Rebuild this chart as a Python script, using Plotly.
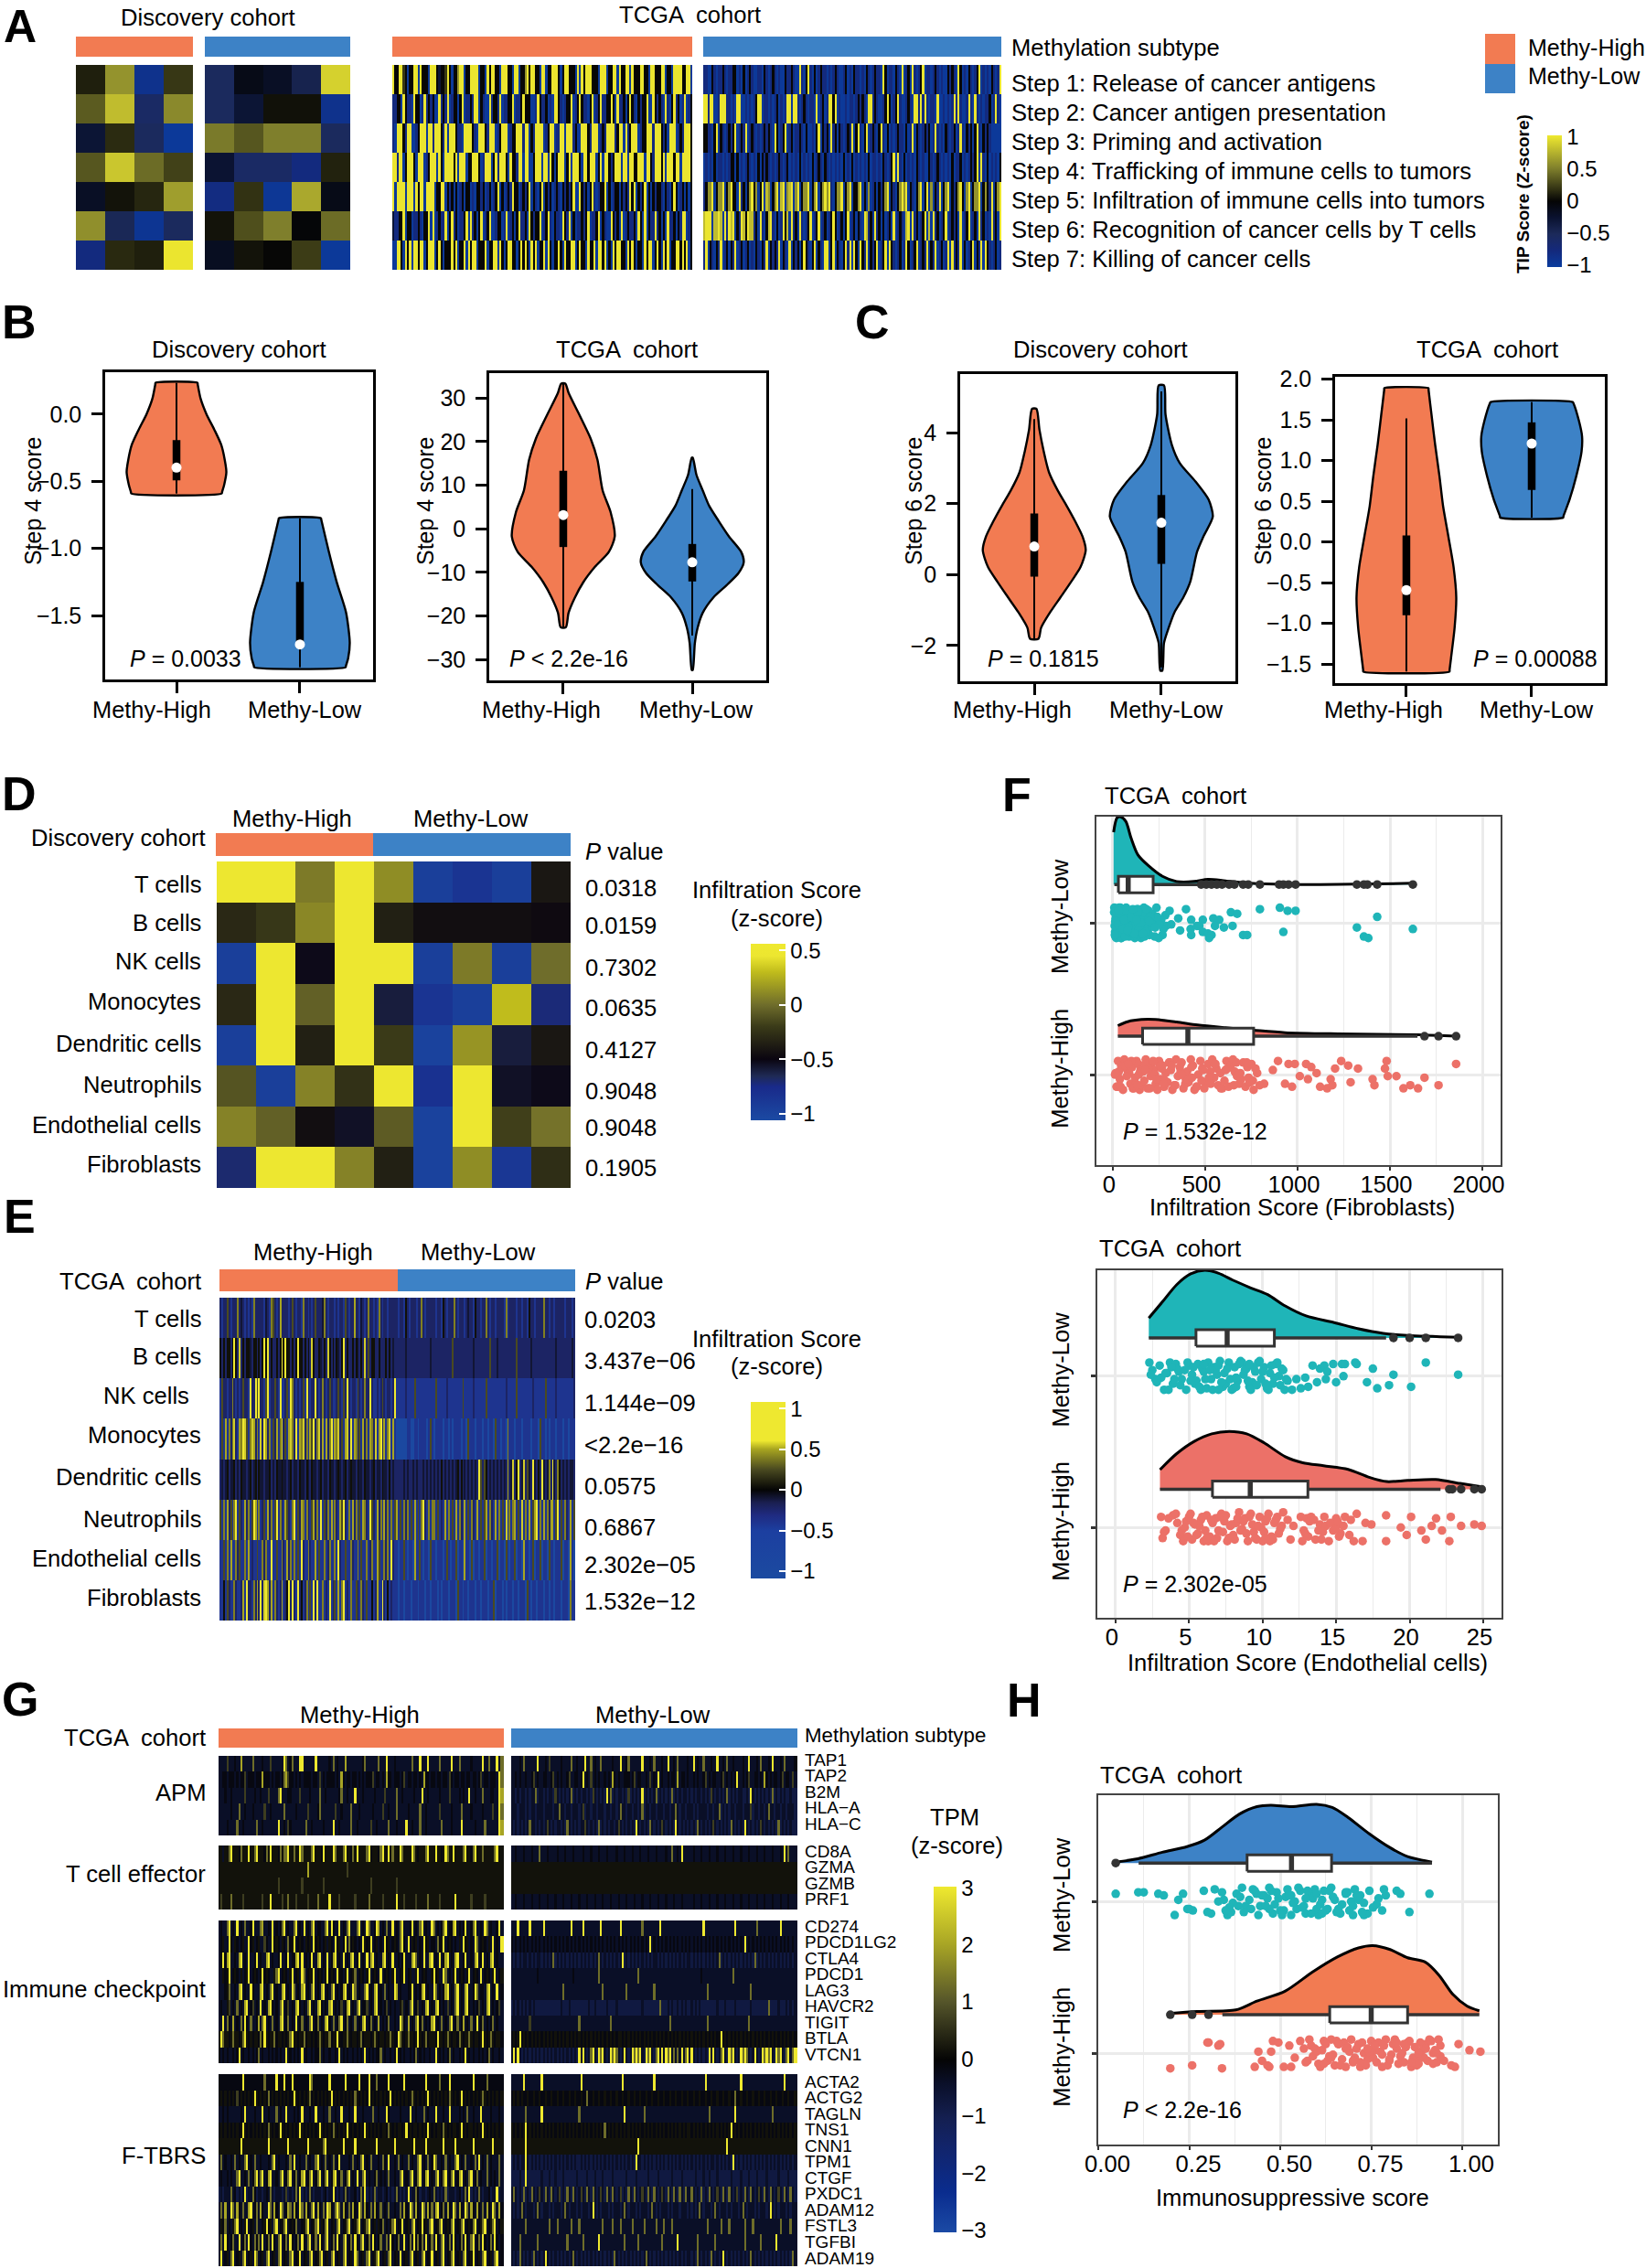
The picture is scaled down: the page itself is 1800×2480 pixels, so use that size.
import plotly.graph_objects as go
import numpy as np

W, H = 1800, 2480
FONT = "Liberation Sans"
ORANGE, BLUE, TEAL, SALMON = "#f27b52", "#3d82c6", "#1fb5b8", "#ec7168"
COHORT_D, COHORT_T = "Discovery cohort", "TCGA  cohort"
GROUPS = ["Methy-High", "Methy-Low"]

# ---------- Panel A ----------
STEPS = ["Step 1: Release of cancer antigens", "Step 2: Cancer antigen presentation", "Step 3: Priming and activation",
         "Step 4: Trafficking of immune cells to tumors", "Step 5: Infiltration of immune cells into tumors",
         "Step 6: Recognition of cancer cells by T cells", "Step 7: Killing of cancer cells"]
A_disc_high = [[.1, .6, -.9, .2], [.35, .8, -.6, .55], [-.3, .15, -.55, -1], [.33, .85, .42, .24],
               [-.2, .05, .13, .65], [.58, -.5, -.95, -.55], [-.8, .14, .1, 1]]
A_disc_low = [[-.55, -.12, -.2, -.45, .9], [-.55, -.3, .04, .04, -.9], [.48, .33, .5, .5, -.55],
              [-.28, -.6, -.6, -.8, .11], [-.82, .18, -.97, .7, -.12], [.05, .3, .5, -.03, .42], [-.18, .05, 0, .22, -1]]
A_LEVELS = [-1, -.8, -.55, -.3, 0, .2, .4, .6, .8, 1]
A_tcga_high = [
 "9449 9540 4499 0944 4099 9434 4594 0447 9904 4999 9044 0949 9440 9994 4099 0447 9499 4409 9044 9994 0499 4440 9094 9994 4409 9904 4990 9449 9094 4499 4409 9444 9904 4099 9944 990",
 "1144 0941 1094 4019 1414 0091 4190 1440 4901 1419 9041 0091 4419 0114 4901 1494 4400 1941 1401 0994 1014 4901 4941 1049 0149 1144 9409 1140 4941 0414 4900 9414 1091 0491 4019 014",
 "1099 9419 9001 4999 0991 9994 1909 9941 1099 9941 0999 4199 9014 9990 1449 9919 9041 9999 0149 9011 9909 9914 0099 9419 9901 4199 9914 9909 1499 9014 4999 1999 4140 9990 1419 994",
 "9919 9049 9940 9990 1499 9094 0999 9490 9990 4499 9401 9990 4919 9940 9441 9909 9004 9990 9909 4049 9904 9099 9409 9499 9049 0994 1499 9099 0994 4999 0994 1999 4909 9949 9099 994",
 "9099 9909 9909 4990 9999 0449 9041 4040 1404 4010 4414 0140 1490 4014 1944 0141 4904 1049 0414 0141 0414 1490 0941 4049 1014 4904 0144 0414 1949 0414 9040 4144 1041 0494 0140 404",
 "3114 4904 4011 4104 4909 0141 1904 9140 1149 0914 0490 1490 0144 0190 1404 9114 0941 4490 1491 0411 0941 9040 1141 4901 1490 4100 9414 0901 4114 0940 9041 1914 0409 1140 4199 014",
 "0099 4094 9099 4990 4999 0494 0444 9490 4490 9499 0444 9044 9909 4049 9440 4949 4094 9044 9094 0449 4094 4990 4944 0944 9099 4904 0949 9440 9494 0440 9499 0494 0949 0449 9494 904"]
A_tcga_low = [
 "1100 4101 1410 1144 0104 0141 0011 0410 1410 1004 1141 0091 0491 0401 4110 1014 1001 4010 4110 1041 0141 1094 0110 4109 0140 9101 4901 1014 1010 0414 1094 0104 1014 9010 1041 0190",
 "9919 9001 9991 1010 9900 1010 1499 0110 1014 0101 9909 9101 4101 1090 1401 9949 0100 1011 0141 4109 9141 0014 9401 4910 0141 0991 9191 0110 9001 0101 9191 0019 1091 0101 1401 9101",
 "4411 0490 4101 4149 0141 9014 1010 1414 1094 0149 0140 1141 0400 1049 0414 0914 0410 1419 0491 0490 1410 4910 4010 1411 0401 9041 0141 4019 1010 4101 4019 1041 4049 1041 4100 0000",
 "0101 0401 1010 1440 4010 1410 1040 4141 0101 4101 4010 1040 1010 4014 1041 0101 0104 0104 0101 0104 0110 1041 0149 0910 4010 1041 0100 4101 4101 0104 0114 0101 4149 0910 4010 1040",
 "1477 9047 7904 7944 0914 0479 4704 9087 0479 0890 7890 7904 7790 4790 4797 9104 7790 4790 4479 0407 0140 4147 9041 0479 7904 1047 9049 0704 1904 7904 1479 4079 0477 9047 4190 4790",
 "8999 0889 8091 9890 4198 4988 1409 1048 9104 0194 8091 4091 0149 0149 0140 1494 0140 4901 4041 0981 4091 4040 1409 0141 0890 9140 1490 8091 4014 9014 1409 0149 0140 9140 1091 4090",
 "1904 1041 9014 0419 0140 1401 0410 4190 4141 9041 0904 1404 9410 4904 1099 0490 4104 9190 9409 4190 4149 0149 0941 0140 1940 1490 1419 0419 0140 1909 1419 0401 4904 1909 4101 4010"]

# ---------- Panels B, C (violins: score levels, half widths, box summaries) ----------
B1_high_y = [.234, .222, .114, 0, -.114, -.227, -.341, -.432, -.523, -.578, -.591]
B1_high_w = [.17, .172, .196, .243, .306, .362, .391, .404, .387, .37, .366]
B1_low_y = [-.775, -.79, -1.023, -1.25, -1.477, -1.705, -1.818, -1.875, -1.886]
B1_low_w = [.17, .174, .234, .298, .374, .404, .391, .373, .37]
B1_high_box = [.234, -.193, -.398, -.493, -.591]
B1_low_box = [-.775, -1.25, -1.716, -1.74, -1.886]
B2_high_y = [33.3, 31.2, 26.3, 20.7, 15.8, 8.8, 3.9, -1.8, -5.3, -8.8, -12.3, -15.8, -19.3, -22.6]
B2_high_w = [.016, .041, .122, .212, .265, .305, .366, .399, .354, .244, .155, .09, .041, .02]
B2_low_y = [16.3, 12.3, 8.8, 5.3, 1.8, -1.8, -5.3, -7.7, -10.2, -13, -15.8, -19.3, -22.8, -26.3, -32.4]
B2_low_w = [.004, .033, .081, .13, .204, .285, .379, .399, .358, .265, .163, .081, .041, .02, .004]
B2_high_box = [33.3, 13.3, 3.15, -4.2, -22.6]
B2_low_box = [9.1, -3.5, -7.7, -12.1, -24.5]
C1_high_y = [4.67, 4.08, 3.48, 2.88, 2.36, 1.93, 1.5, 1.07, .69, .21, -.21, -.64, -1.07, -1.5, -1.81]
C1_high_w = [.017, .041, .074, .116, .186, .256, .322, .38, .405, .364, .289, .207, .124, .054, .033]
C1_low_y = [5.33, 4.51, 3.65, 3.14, 2.62, 2.11, 1.63, 1.07, .64, -.21, -.64, -1.07, -1.5, -1.93, -2.71]
C1_low_w = [.021, .033, .083, .145, .269, .372, .405, .331, .281, .227, .174, .103, .058, .021, .008]
C1_high_box = [4.38, 1.72, .79, -.06, -1.8]
C1_low_box = [5.16, 2.24, 1.46, .30, -2.62]
C2_high_y = [1.89, 1.87, 1.56, 1.19, .81, .44, .07, -.31, -.68, -1.05, -1.43, -1.57, -1.59]
C2_high_w = [.176, .177, .201, .23, .264, .293, .335, .377, .398, .385, .356, .345, .344]
C2_low_y = [1.72, 1.70, 1.49, 1.3, 1.11, .81, .52, .32, .30]
C2_low_w = [.327, .335, .377, .402, .398, .356, .302, .254, .251]
C2_high_box = [1.52, .08, -.59, -.9, -1.59]
C2_low_box = [1.72, 1.47, 1.21, .64, .30]

# ---------- Panels D, E ----------
CELLS = ["T cells", "B cells", "NK cells", "Monocytes", "Dendritic cells", "Neutrophils", "Endothelial cells", "Fibroblasts"]
D_P = ["0.0318", "0.0159", "0.7302", "0.0635", "0.4127", "0.9048", "0.9048", "0.1905"]
E_P = ["0.0203", "3.437e−06", "1.144e−09", "<2.2e−16", "0.0575", "0.6867", "2.302e−05", "1.532e−12"]
D_matrix = [[.5, .5, .05, .5, .12, -.95, -.85, -.95, -.4],
            [-.3, -.22, .1, .5, -.35, -.45, -.45, -.45, -.47],
            [-.95, .5, -.52, .5, .5, -.95, .05, -.95, 0],
            [-.3, .5, -.05, .5, -.6, -.85, -.95, .3, -.72],
            [-.95, .5, -.35, .5, -.2, -.98, .15, -.6, -.4],
            [-.1, -.95, .08, -.25, .5, -.82, .5, -.55, -.52],
            [.08, -.05, -.45, -.55, -.07, -.98, .5, -.18, .02],
            [-.7, .5, .5, .08, -.35, -.98, .12, -.88, -.27]]
D_groups = [0, 0, 0, 0, 1, 1, 1, 1, 1]
E_LEVELS = [-1, -.4, -.22, -.1, .04, .25, .4, .5, .56, 1]
E_high = [
 "2122521222623212121622222132165212722221252122162212125222362122212122152122722132126221216212212222",
 "4242442494282424432442424949242242494944242494424242842243242842424324924224243242825244224222424232",
 "1522122621212522192295922159122521911251962121251921229212621252112521529212215212622921121252122129",
 "1517162682176985168726182972615271682517862917682617592682717269176825178291762517261762817927168171",
 "2323423342324332342342433233423243343323423324332432433234233243323432342343324332433234233243324232",
 "5161725169152172615971612517261591621752169152761621572619152617162175921617261517621952172617261615",
 "1151617116251161712115116261191151162172616151921162117151161261161921151162116151161261175116261921",
 "1141521162112719221627292897271621271249292192412615192911612191251716912161152162151141271192141211"]
E_low = [
 "2122142122212262122222122142122262122212322142212262122122221612222122122142212222622122122222122212",
 "2222232222222222222322222222222522222222222322222222522232222222222522222223222222222222232222222232",
 "1111121111511111111111511111211111111511111211111151111111111211111511111111211111151111121111111112",
 "0000001100110111101510111101101011110110511101110110110511011061110111011110111051101011101110110111",
 "2222323223232223232323232423232323424232323232952542323232323272382492382532932429323629326423232332",
 "7151626151715169216166151217161517162171516217151571621716151816167151816171579161716277159151621715",
 "1011510110711510110511011101510115011071105011011501101150110510115011071101501150110511011150110710",
 "1011011101110111011011101011101110511011011101101110115011101011101101110510110111011011011101110611"]
E_groups = [60, 60]

# ---------- Panels F, H (rain clouds) ----------
F1_low_dx = [4, 23, 42, 70, 99, 136, 193, 269, 345, 440, 515, 610, 743, 932, 1122, 1311, 1624]
F1_low_dh = [.345, .44, .446, .416, .305, .195, .124, .054, .02, .02, .034, .024, .008, 0, 0, .002, .008]
F1_high_dx = [27, 80, 155, 231, 345, 459, 610, 762, 932, 1217, 1652, 1861]
F1_high_dh = [.07, .096, .11, .11, .094, .074, .056, .04, .024, .016, .01, 0]
F1_low_box = [8, 30, 83, 218, 459]
F1_high_box = [27, 161, 406, 762, 1649]
F1_low_out = [478, 506, 534, 563, 591, 629, 658, 705, 733, 796, 900, 923, 951, 989, 1321, 1359, 1378, 1431, 1624]
F1_high_out = [1687, 1763, 1858]
F1_low_x = [396, 307, 284, 354, 424, 487, 544, 576, 553, 468, 316, 288, 364, 421, 455, 601, 648, 424, 487, 515, 534, 521, 705, 727, 639, 673, 269, 796, 904, 946, 989, 923, 1321, 1431, 1359, 1383, 1624,
            8, 12, 15, 19, 7, 23, 27, 14, 31, 36, 21, 41, 18, 46, 52, 29, 57, 38, 63, 69, 44, 74, 81, 33, 88, 96, 58, 104, 112, 72, 119, 127, 91, 136, 143, 106, 152, 161, 124, 168, 176, 139, 185, 193, 155, 201, 212, 171, 224, 236, 189, 248, 262, 207, 274, 231, 216, 62, 84, 48, 25, 132, 150,
            10, 17, 24, 34, 43, 50, 59, 66, 77, 86, 93, 101, 109, 117, 122, 130, 141, 147, 158, 166, 173, 181, 190, 198, 209, 218, 227, 240, 252, 13, 28, 39, 55, 71, 83, 98, 115, 134, 154, 178, 203, 11, 32, 61, 79, 108, 128, 163, 196, 229]
F1_low_j = [9, 8, 5, 3, 2, 2, 3, 2, -2, -2, -1, -2, -5, -4, -2, -3, -2, -8, -6, -7, -8, -10, -8, -8, 7, 6, -8, 9, 10, 8, 8, -6, -3, 4, -9, -10, -4,
            10, -6, 3, -10, 7, 9, -3, -9, 5, -7, 1, 10, -4, -10, 4, 8, -8, 2, 9, -5, -10, 6, -2, 10, -9, 3, 8, -6, 0, 10, -10, 5, -3, 9, -7, 2, -10, 7, -4, 10, 1, -8, 4, 8, -6, -1, 6, -9, 3, 10, -5, -10, 2, 6, -4, 1, -2, -8, 7, -1, -7, 4, -5,
            -2, 6, -7, 2, -5, 7, 0, -9, 3, -6, 8, -2, 5, -8, 1, 9, -4, 3, -7, 7, -1, 9, -3, -8, 0, 5, -9, 4, -1, 1, -1, 6, -4, 8, -3, 4, -7, 7, 0, -6, 4, -8, 8, 2, -5, 9, 2, -7, 1, -3]
F1_high_x = [1858, 1763, 1687, 1652, 1610, 1573, 1535, 1488, 1473, 1482, 1416, 1406, 1327, 1287, 1274, 1236, 1203, 1179, 1160, 1122, 1188, 1103, 1074, 1046, 1056, 1012, 970, 932, 985, 951, 894, 866, 819, 781,
             12, 28, 20, 45, 38, 62, 55, 78, 70, 95, 88, 112, 104, 128, 120, 145, 137, 162, 154, 178, 170, 196, 188, 214, 205, 232, 224, 250, 241, 268, 259, 286, 278, 304, 296, 322, 314, 342, 333, 362, 352, 382, 372, 402, 392, 422, 412, 442, 433, 462, 452, 484, 474, 505, 495, 527, 516, 548, 538, 570, 560, 592, 582, 615, 604, 638, 626, 660, 650, 684, 672, 706, 695, 728, 718, 750, 740, 772, 762, 795, 32, 140, 265, 410, 555, 735,
             25, 50, 75, 100, 125, 150, 175, 200, 228, 255, 283, 310, 338, 367, 395, 425, 455, 488, 520, 552, 585, 620, 655, 690, 725, 758, 66, 108, 148, 192, 236, 275, 318, 372, 428, 480, 530, 610, 668, 742, 15, 42, 84, 132, 176, 218, 300, 350, 446, 500]
F1_high_j = [7, -7, -2, -9, -7, -9, -1, -1, 4, 9, -7, -3, 4, -5, 6, 9, 4, -3, -9, -8, -7, 1, 5, 7, -3, -1, -8, -6, 7, 7, 9, 3, -6, 1,
             0, 9, -8, 6, -3, 10, -10, 3, 8, -6, 1, -9, 5, 9, -2, -10, 7, 2, -7, 10, -4, 4, -9, 8, -1, -6, 3, 9, -10, 6, -3, 1, -8, 8, -5, -10, 3, 10, -7, 5, -1, -9, 8, 2, -6, 10, -3, -10, 6, 0, -8, 4, 9, -5, -9, 2, 7, -2, 10, -7, 4, -9, 1, 9, -4, 6, -8, 2, 10, -6, -1, 8, -3, 5, -8, 7, -5, 4, -10, -7, 2, 0,
             4, -5, 7, -2, -8, 5, -1, 9, -6, 3, 7, -9, 0, 6, -4, 8, -7, 2, -3, 5, -8, 3, -2, 7, -9, 4, -7, 1, 8, -4, 6, -9, 2, 4, -3, -6, 6, 0, -2, -4, -6, 3, 8, -5, 1, -8, 7, -7, 3, 9]
F2_low_dx = [2.26, 3.21, 4.16, 5.11, 6.07, 7.02, 7.97, 9.16, 10.35, 11.54, 12.96, 14.87, 16.53, 18.2, 19.86, 23.31]
F2_low_dh = [.131, .241, .352, .423, .447, .427, .382, .332, .286, .211, .145, .101, .06, .03, .016, .004]
F2_high_dx = [3.02, 4.16, 5.35, 6.54, 7.73, 8.92, 10.11, 11.54, 12.73, 14.15, 15.82, 17.25, 18.44, 19.86, 21.77, 23.43, 24.98]
F2_high_dh = [.129, .235, .316, .366, .382, .366, .306, .215, .175, .155, .131, .079, .05, .058, .064, .038, .014]
F2_low_box = [2.26, 5.47, 7.59, 10.8, 18.4]
F2_high_box = [3.02, 6.59, 9.16, 13.08, 22.1]
F2_low_out = [18.9, 20.0, 21.1, 23.3]
F2_high_out = [22.7, 22.9, 23.5, 24.4, 24.9]
F2_low_x = [2.3, 2.5, 2.7, 2.4, 2.8, 3.0, 3.3, 3.5, 3.7, 3.9, 3.6, 4.1, 4.3, 4.5, 4.2, 4.8, 5.0, 5.2, 5.4, 4.9, 5.6, 5.8, 6.0, 5.5, 6.3, 6.5, 6.7, 6.2, 6.9, 7.1, 7.3, 6.8, 7.5, 7.7, 7.9, 7.4, 8.1, 8.3, 8.5, 8.0, 8.7, 8.9, 9.1, 8.6, 9.3, 9.5, 9.7, 9.2, 9.9, 10.1, 10.3, 9.8, 10.5, 10.7, 10.9, 10.4, 11.1, 11.3, 11.5, 11.0, 11.7, 12.0, 12.3, 12.6, 12.9, 13.1, 13.4, 13.7, 13.9, 14.2, 14.4, 14.3, 14.8, 15.0, 15.4, 15.5, 15.6, 16.3, 16.4, 17.1, 17.5, 17.8, 18.6, 18.9, 20.1, 21.1, 23.3,
            3.1, 3.8, 4.4, 4.7, 5.1, 5.3, 5.7, 5.9, 6.1, 6.4, 6.6, 7.0, 7.2, 7.6, 7.8, 8.2, 8.4, 8.8, 9.0, 9.4, 9.6, 10.0, 10.2, 10.6, 10.8, 11.2, 11.4, 3.4, 4.0, 6.0, 7.0, 8.2, 9.1, 10.3, 11.6]
F2_low_j = [9, 4, -2, 1, -4, 7, -9, 2, 9, -5, -9, 8, 3, -2, 5, -9, 7, 1, -5, 9, 8, -9, 3, -3, 9, -2, 6, -8, 1, 10, -7, 4, -5, 9, -9, 2, 6, -3, 10, -8, 1, 5, -7, 9, -4, 3, 9, -9, -2, 6, -8, 10, 2, -5, 8, -9, 0, 5, -9, 9, -3, -9, -2, -8, -1, -7, 7, -4, 5, 7, 3, -2, 8, -4, 8, 0, 8, 9, 8, -4, 5, -8, -6, 1, -7, 9, 1,
            -1, 6, -6, 4, -3, 6, -7, 5, -2, 4, -9, 7, -4, 5, -2, -7, 8, 4, -3, 6, -6, 3, -5, 7, -1, -6, 4, 2, -2, 8, -9, -1, 8, -6, -2]
F2_high_x = [3.1, 3.4, 3.2, 3.6, 3.3, 3.9, 4.2, 4.4, 4.1, 4.6, 4.8, 4.5, 5.0, 5.2, 5.4, 5.1, 5.6, 5.8, 6.0, 5.7, 6.2, 6.4, 6.6, 6.3, 6.8, 7.0, 7.2, 6.9, 7.4, 7.6, 7.8, 7.5, 8.0, 8.2, 8.4, 8.1, 8.6, 8.8, 9.0, 8.7, 9.2, 9.4, 9.6, 9.3, 9.8, 10.0, 10.2, 9.9, 10.4, 10.6, 10.8, 10.5, 11.0, 11.2, 11.4, 11.1, 11.7, 11.9, 12.1, 12.6, 12.8, 13.0, 12.7, 13.3, 13.6, 13.9, 13.2, 14.2, 14.5, 14.8, 14.3, 15.0, 15.3, 15.6, 15.0, 16.0, 16.2, 16.4, 15.9, 16.8, 17.0, 17.4, 18.4, 18.4, 19.4, 19.8, 20.1, 20.8, 21.1, 21.5, 21.8, 22.2, 22.7, 22.8, 23.5, 24.4, 24.9, 12.9, 14.0, 10.9,
             4.9, 5.3, 5.5, 5.9, 6.1, 6.5, 6.7, 7.1, 7.3, 7.7, 7.9, 8.3, 8.5, 8.9, 9.1, 9.5, 9.7, 10.1, 10.3, 10.7, 11.3, 13.1, 13.5, 14.1, 14.6, 15.2, 15.5, 4.7, 6.2, 8.7, 10.2, 13.8, 15.1]
F2_high_j = [7, -2, -7, 6, -3, 8, 3, -5, 9, -9, 4, -2, 7, -8, 2, 9, -4, 5, -9, 1, 8, -6, 3, -9, 6, -2, 9, -7, 4, -9, 1, 8, -5, 3, 10, -8, -1, 6, -9, 4, 9, -3, -8, 2, 7, -9, 4, 0, 9, -6, 3, -9, 7, -1, 10, -4, 5, -8, 1, 7, -2, 6, -9, 7, -8, 2, 4, 7, -9, -2, 1, 6, -4, 7, 0, 5, -9, 9, -5, -9, 3, 2, -9, 8, 0, -5, 7, -2, -8, 1, 6, -2, -9, 7, 1, 2, 1, -4, -8, 5,
             -6, 3, -5, 7, -2, 5, -9, 7, -3, -7, 2, 6, -2, -4, 7, -7, 1, -3, 6, -8, 1, -6, 5, -3, 3, -6, 1, 0, -7, 5, -7, -2, 4]
H_low_dx = [.041, .109, .176, .244, .292, .34, .388, .436, .474, .532, .6, .643, .686, .744, .802, .85, .917]
H_low_dh = [.004, .028, .071, .108, .151, .237, .323, .372, .381, .372, .387, .366, .301, .194, .101, .043, .006]
H_high_dx = [.191, .272, .378, .436, .513, .59, .657, .715, .754, .802, .85, .898, .936, .975, 1.013, 1.047]
H_high_dh = [.009, .022, .032, .09, .155, .284, .381, .441, .456, .43, .376, .348, .262, .133, .058, .026]
H_low_box = [.111, .409, .531, .641, .917]
H_high_box = [.341, .636, .75, .85, 1.047]
H_low_out = [.048]
H_high_out = [.198, .258, .303]
H_low_x = [.048, .11, .125, .165, .18, .22, .233, .21, .245, .26, .29, .3, .32, .33, .31, .345, .355, .34, .37, .38, .365, .395, .405, .39, .42, .43, .415, .44, .455, .445, .47, .48, .465, .49, .5, .485, .52, .53, .515, .545, .555, .54, .57, .58, .565, .595, .605, .59, .62, .63, .615, .64, .655, .645, .67, .68, .665, .695, .705, .69, .72, .73, .715, .745, .755, .74, .77, .785, .765, .78, .79, .82, .83, .855, .91, .25, .47, .6, .53, .7,
           .36, .4, .435, .46, .475, .495, .51, .525, .535, .56, .575, .585, .6, .61, .625, .635, .65, .66, .685, .7, .71, .725, .35, .385, .425, .45, .505, .55, .57, .615, .68, .73]
H_low_j = [5, 6, 6, 5, 4, 1, 5, -9, -5, -6, 7, -7, 8, 0, -8, 1, -9, 6, -1, 5, -7, 9, -3, 3, -5, 7, 1, -9, 4, -3, 9, -8, 2, 6, -6, -2, 8, -9, 3, -5, 7, 0, -8, 5, -3, 8, -9, 2, 7, -5, 1, 9, -7, 3, -2, 6, -8, 0, 8, -6, 4, -9, 1, 7, -4, -8, 2, 8, -2, -6, 4, 7, 5, -7, 5, -5, -5, -5, 4, -9,
           -4, -7, 5, -3, 7, 2, -6, 4, -1, -4, 7, -8, 5, -2, -6, 7, 1, -5, 6, -3, 4, -7, -6, -3, 8, 4, -9, 9, 2, -8, 5, -1]
H_high_x = [.198, .258, .303, .34, .335, .44, .43, .45, .47, .48, .465, .475, .495, .51, .525, .53, .54, .555, .565, .57, .58, .59, .6, .61, .585, .62, .63, .615, .64, .65, .635, .66, .67, .655, .68, .69, .675, .7, .71, .695, .72, .73, .715, .74, .75, .735, .76, .77, .755, .78, .79, .775, .8, .81, .795, .82, .83, .815, .84, .85, .835, .86, .87, .855, .88, .89, .875, .9, .91, .895, .92, .93, .915, .94, .95, .935, .97, .98, .99, 1.02, 1.05, .3, .33, .88,
            .575, .595, .605, .625, .645, .665, .685, .705, .725, .745, .765, .785, .805, .825, .845, .865, .885, .905, .925, .94, .6, .64, .68, .72, .76, .8, .84, .88, .92, .66, .7, .74, .78, .82, .86, .9, .93, .62]
H_high_j = [-10, -8, 7, -10, 6, 1, -9, -5, -9, 8, -8, 1, 7, -9, 5, -9, -3, 8, 3, -6, 9, -2, 1, -9, 5, 8, -5, 2, 9, -8, -2, 6, -4, 8, -9, 1, 7, -6, 3, 9, -9, 0, 6, -4, 8, -8, 2, 7, -3, -9, 9, 1, -5, 6, -8, 3, -2, 9, -6, 7, 0, -9, 4, 8, -4, 2, -8, 6, 9, -3, 0, -6, 8, 5, -5, 9, -8, -9, 6, 2, 1, 7, 5, -7,
            -5, 3, -7, 6, -1, -8, 4, -3, 7, 1, -6, 5, -1, -7, 4, -3, 7, -5, 2, -2, 2, -3, 3, -6, 5, -4, 6, 0, -7, 6, -5, 3, -1, 7, -6, 3, 0, -7]

# ---------- Panel G ----------
G_LEVELS = [-3, -1.5, -.8, -.4, -.15, .15, .7, 1.3, 2, 3]
G_BLOCKS = ["APM", "T cell effector", "Immune checkpoint", "F-TBRS"]
G_GENES = [["TAP1", "TAP2", "B2M", "HLA−A", "HLA−C"], ["CD8A", "GZMA", "GZMB", "PRF1"],
           ["CD274", "PDCD1LG2", "CTLA4", "PDCD1", "LAG3", "HAVCR2", "TIGIT", "BTLA", "VTCN1"],
           ["ACTA2", "ACTG2", "TAGLN", "TNS1", "CNN1", "TPM1", "CTGF", "PXDC1", "ADAM12", "FSTL3", "TGFBI", "ADAM19"]]
G_high = [
 ["3333 6333 4338 3333 3733 3343 3363 3333 3973 4733 3993 3333 3933 3333 4373 4333 8333 3333 3473 3333 3733 3933 3433 3333 3373 3393 3393 3333 7333 3393 3373 3333 4333 3393 3733 3937",
  "3344 3444 3434 4634 4434 4484 4434 3443 4786 4434 3434 4443 4436 3434 4443 4384 3443 4434 3434 4463 4434 3844 3444 3463 4434 4343 8443 4434 4344 3643 4434 4344 3443 4634 4344 4397",
  "3334 3343 3333 3633 3343 3433 3633 3379 3334 4333 3633 3343 3337 3343 3333 3473 3433 3933 3433 3334 3333 6333 3373 3433 3334 3339 3343 3333 4333 3633 3343 4339 3343 3373 3344 3398",
  "3333 3343 3373 3433 3433 3336 3343 3333 3733 3334 3333 3633 3347 3333 3336 3343 3337 3334 3333 3343 3336 3343 3373 3333 4333 3373 3433 3333 6333 3343 3337 3333 4333 3343 3336 3397",
  "3333 4333 3733 4333 3337 3343 3333 3393 3436 4333 3333 7334 3333 3433 3393 3433 3337 3343 3333 3633 4333 3373 3343 3339 3343 3373 3433 3333 3733 3343 3339 3333 3343 3337 3333 3398"],
 ["5535 5795 5547 5559 5579 5554 7595 5547 5779 5575 5975 5557 9555 4955 5597 5557 9554 7595 5557 9455 5479 5595 7555 9755 5597 5455 5795 5595 5459 7559 5555 7955 4795 5575 5555 7955",
  "5555 5555 5555 5555 5555 5555 5555 5555 5555 5555 5555 5855 5555 5555 5555 5555 5655 5555 5555 5555 5555 5555 5555 5555 5555 5555 5555 5555 5555 5555 5555 5555 5555 5555 5555 5555",
  "5555 5555 5555 5555 5555 5555 5555 5565 5555 5555 5565 5555 5555 5655 5555 5555 5555 5555 5555 5655 5555 5555 5565 5555 5555 5555 5555 5555 5555 5555 5555 5555 5555 5555 5555 5555",
  "5655 5575 5555 6555 5555 5565 5595 5555 6557 5556 5555 5655 5575 5555 9555 5655 5555 5655 5555 7555 5556 5555 5595 5565 5555 6555 5575 5555 6555 5555 9555 5555 6555 5556 5555 5555"],
 ["3433 7934 3934 3733 4933 3783 3439 3434 7934 3379 3439 3437 9344 3379 3943 3934 3793 3379 3439 7334 9834 3733 9343 7933 3493 4379 3433 9734 3479 3448 9343 4933 4793 3439 7343 3493",
  "3453 3943 5434 5339 4534 5336 4339 4543 5437 4593 4543 5453 9454 3453 5439 4534 9374 5434 3954 5934 5343 9453 4543 7943 9354 5343 9453 4437 4593 4543 4353 9453 4397 3454 3539 3439",
  "3494 8933 4389 3439 3349 3433 8934 3349 3349 3448 9393 4349 3389 3439 3489 3439 3438 9349 3439 3893 4338 9343 9334 3493 3389 7343 9338 9343 9348 9343 8933 4933 4389 3493 4389 3433",
  "3354 5934 5435 3459 3454 3594 5433 5793 4543 5934 5397 3455 9345 4359 4543 9543 5934 5734 5435 9345 4393 4543 5933 4593 4533 5934 5433 5945 3397 3435 9345 4359 3454 3934 5435 9345",
  "3334 5733 4389 3433 9433 3893 4379 3433 8934 3973 4389 3437 9343 8934 3793 4348 9343 9734 3379 3438 9343 7343 3983 4333 4593 4348 9343 3973 4348 9343 7934 3893 3497 3443 8934 3934",
  "3433 5634 3734 3893 4634 3934 3894 3437 9346 3438 9434 3793 4389 4343 8934 3463 4893 4379 3446 3438 9343 4634 3433 5634 3793 4634 3893 4389 4343 6343 7934 3894 3434 6343 8934 3463",
  "3393 7438 3437 3943 7334 8379 3437 3438 9347 3439 3473 4379 3473 4389 4373 4793 4734 3734 3893 4734 3834 3473 3433 9743 8343 7947 3434 8934 3734 3793 4734 8343 7349 3473 4347 3433",
  "4975 5457 5545 7954 5455 4759 5455 7455 4545 7955 4557 4554 5457 5455 7455 9545 5754 5545 7455 5457 5455 4557 5449 7545 7554 5954 5745 5549 5545 7545 5475 4557 5455 4595 4575 4554",
  "4343 4334 3493 4334 3434 7343 3434 3434 3393 4343 4393 4334 3447 3433 4334 3934 3433 4343 4393 4343 4473 4334 3493 4343 3434 7343 4334 3393 4343 4734 3343 4934 3433 4343 4734 3343"],
 ["4444 4444 4444 9444 4444 4447 4444 4944 4944 4944 4444 4497 4444 4444 9444 4444 9444 4449 4444 9444 7444 4494 4444 4494 4444 4444 4944 4444 7444 4944 4444 4444 4944 4444 7444 4444",
  "4545 4545 4645 4545 4595 4545 4745 4545 4545 4595 4545 4574 5454 5454 5945 4545 4545 4754 5454 9454 5454 5459 4545 4545 4575 4545 4595 4545 4545 4754 5459 4545 4545 4575 4545 4545",
  "3343 4333 3334 3933 3343 3393 3433 3734 3393 3343 4393 3343 3933 3433 7334 3393 3343 3933 3433 3373 3433 3943 3333 4333 3933 4333 7343 3393 3343 3933 3343 4373 3433 3933 3343 3343",
  "4545 4545 4545 9545 4545 4545 4754 5459 5454 5454 5954 5454 5459 5454 5475 4545 4954 5454 5495 4545 4545 5475 4545 5459 4545 5454 5495 4545 5475 4545 5459 4545 5454 5495 4545 4545",
  "5555 5555 5559 5555 5555 5555 5955 5555 5559 5555 5555 5955 5555 5795 5555 5559 5555 5955 5555 5555 9555 5555 5955 5555 5559 5555 5955 5555 5595 5555 9555 5555 5955 5555 5559 5555",
  "3734 3343 7343 3793 4373 3433 3437 9343 3343 7393 3433 7343 3793 4373 4373 4933 3343 7343 7934 3733 3437 4393 3437 3433 7343 3793 4373 4973 3437 3433 7934 3733 4373 9343 7343 3373",
  "3433 4343 3793 3437 3479 3793 4893 3437 9347 9347 3489 3479 3479 3479 3489 3473 4793 4393 3793 4334 7343 4373 3433 7934 3793 4793 4893 4379 3479 3479 3489 3437 9347 3433 7343 4373",
  "2323 3373 4232 3923 3742 3323 4373 2333 2362 3237 3923 2373 2333 2342 3393 2323 7323 3423 7392 3237 2332 3423 2373 2323 9233 7423 3234 3732 3237 2333 2342 3739 2323 7323 3423 3923",
  "3738 3397 3843 7338 9347 3843 3973 8439 7348 7384 3973 8437 9384 3739 8437 9738 4373 8439 7384 3738 4373 4373 3433 7384 3973 8439 7384 7389 3473 8439 7384 3973 8438 4373 8439 7384",
  "3547 3435 7934 3593 4537 3345 9453 7934 5793 4547 3345 7934 5793 5479 3453 7934 5793 4579 3457 9345 3547 3435 7934 5934 5379 3459 4537 9345 7934 5479 3457 9345 4793 4579 3457 9345",
  "3739 4347 3393 4739 4374 7393 4739 4379 3473 9434 7394 3793 4739 4379 3473 9437 9347 3943 7934 7394 3473 3739 4347 3393 4739 4747 3934 7394 3793 4739 4347 3943 7934 7394 3473 9434",
  "3934 5379 3453 7934 5397 3453 7934 5379 3453 7934 5934 5379 3457 9345 3793 4537 9345 3973 4537 9345 7934 5379 3453 9345 3793 4537 9345 9345 3793 4579 3453 7934 5934 5379 3453 7934"]]
G_low = [
 ["333343733333393334363333343333733433393373433733333433393347333333933343733343393343733334339343373334339334373343333433933343733343933343733334",
  "334343343346343344334634343346334434934363434334343843433444346344334363439343343443834434334343346343443346343434933434633443438434344346344363",
  "332323323233723323233263232323723232332326323232937232332326232323923232372323232723232332323233232326323232372323233223293232323232723232322322",
  "333233323233233323333233733233233323623323323332332332373323323323723323323332332337323323332323333233233723232332333233362332332373323323323332",
  "323232323733232323632323323273232323363232327232323323632323232932323273232363232329323232323273232323632323232732323293232323632323232723232322"],
 ["334333433343337333433334333433343333433343334333433334333433343334333433343333433733439333334333433343334333433343334333433343334333433343937333",
  "555555555555555555555555555555555555555555555555555555555555555555555555555555555555555555555555555555555555555555555555555555555555555555555555",
  "555555555555555555555555555555555555555555555555555555555555555555555555555555555555555555555555555555555555555555555555555555555555555555555555",
  "334333433343334333433343334333433343334333433343334333433343334333433343334333433343334333334333433343334333433343334333433343334333433343334333"],
 ["333933333933333393333333333333933333933333333933333333393333333333733333333933333333333333333333393333333333333339333333333373333333333393333333",
  "434343434343434343434343434343434343434343434343434343434343434343434393434343434343434343434343434343434343434343434393434343434343434343434343",
  "323232332323233232323723232323232323232323237323232323239232323232323232332323232323232323323232323232323723232323232323232723232323232323232323",
  "333333333333343333333333333333343333333333337333333333333333333373333333333333333333333333333333433333333333333373333333333333333333333333333333",
  "333333333333333333333333337333333333333333333373333333333373333333333333733333333333333333333333333733333333333333333333373333333333333333333333",
  "232323232323222222222222232223222222222322322222322223222222222222322222222722232322323232232323222222223222322223222222232222222272222322232323",
  "333333333633333333333333333333333373333333333333337333333333333333333333333333337333333333333333333733333333333333333333733333333333333333333333",
  "454594545454545454545454545454545454545454545454545454554545454545454545454545454545454545454545454545454594545454545454545454545454545454545454",
  "393932323232323232323232323232323293932379329793239797323932397979329793279393979373739379393232323293932379329793239797323932397979329793279379"],
 ["333333933333333933333333333333333339333333333333333333339333333333333333933333333333333333333333339333333333333333339333333333333333333333933333",
  "454545445445445445445445445445445445447445445445445445445445445445445445445445445445445445445445445445445445445447445445445445445445445445445445",
  "333333373333333933333333333333333373333333333333333333333933333333373333333333333333333333333333333373333333333339333333333333333333733333333333",
  "545454594545454545454545454545454545454545454547454545454545454545454545454545454545454545545454545454545454545945454545454545454545454545454545",
  "555555595555555555555555555555555555555555555555555555555555555595555555555555555555555555555555555555555555595555555555555555555555555555555555",
  "232323393232323232323232323232323223232323232323232323232323232933232323232323232323232323232323232323323232323293232323232323232323232323232323",
  "222232292222222322232232223222222322223222322232222322222232222322222322223222222322223222222322232232223222222322223222322232222322222322223222",
  "373232723273236327327323623273273236327327323632732732362327327323632732732363273273273273373232723273236327327323623273273236327327323632732732",
  "323237323332373233323233323732333232333239323233323233323732333232333237323233323233323332323237323332373233323233323732333232333239323233323233",
  "333333373333333333373337333333733373333333333373333733373333373333373333373337333733333333333333333733333373337333333373337333333333333373333733",
  "333373333333373333333333333373333333733333339333333333333733333373333333333373333333933333333373333333373333333333333373333333733333339333333333",
  "323273232327323239323232323232373232323232323232323273232323232323237323232323232323232323323273232327323239323232323232373232323232323232323273"]]

# ---------- Colour ramps ----------
CS_A = [[0, "#0a3c9e"], [.125, "#14297c"], [.25, "#1c2a5a"], [.375, "#0a1230"], [.5, "#050505"], [.75, "#80802c"], [1, "#efe92f"]]
CS_D = [[0, "#1b4aa3"], [.19, "#192a8a"], [.25, "#1f2a55"], [.346, "#0a0510"], [.53, "#3a3a18"], [.654, "#6f6d2b"], [.84, "#c0bc1c"], [.93, "#ece630"], [1, "#efe92f"]]
CS_E = [[0, "#1b4aa0"], [.27, "#1c3fa0"], [.36, "#1f2a80"], [.43, "#1a1f50"], [.502, "#050505"], [.618, "#4a4a20"], [.733, "#a8a520"], [.78, "#eee830"], [1, "#eee830"]]
CS_G = [[0, "#1b4aa5"], [.117, "#0a2c8e"], [.25, "#12246a"], [.333, "#141f50"], [.433, "#0a0f28"], [.5, "#050505"], [.667, "#55552a"], [.833, "#a8a525"], [1, "#efe92f"]]

fig = go.Figure()
layout = {}
annots = []
axn = [0]


def new_axes(box, xcfg=None, ycfg=None):
    l, t, r, b = box
    axn[0] += 1
    n = axn[0]
    s = "" if n == 1 else str(n)
    x = dict(domain=[l / W, r / W], anchor="y" + s, automargin=False)
    y = dict(domain=[1 - b / H, 1 - t / H], anchor="x" + s, automargin=False)
    x.update(xcfg or dict(visible=False))
    y.update(ycfg or dict(visible=False))
    layout["xaxis" + s] = x
    layout["yaxis" + s] = y
    return "x" + s, "y" + s


def txt(x, y, s, size=25.6, anchor="left", angle=0, bold=False):
    annots.append(dict(xref="paper", yref="paper", x=x / W, y=1 - y / H, text=("<b>%s</b>" % s if bold else s), showarrow=False,
                       xanchor=anchor, yanchor="middle", textangle=angle, font=dict(family=FONT, size=size, color="#000"), align="center", borderpad=0))


def heat(box, z, caxis):
    xa, ya = new_axes(box, dict(visible=False), dict(visible=False, autorange="reversed"))
    fig.add_trace(go.Heatmap(z=z, coloraxis=caxis, xaxis=xa, yaxis=ya, hoverinfo="skip", xgap=0, ygap=0))


def bar_annot(box, values):
    xa, ya = new_axes(box, dict(visible=False), dict(visible=False, autorange="reversed"))
    fig.add_trace(go.Heatmap(z=values, colorscale=[[0, ORANGE], [1, BLUE]], zmin=0, zmax=1, showscale=False, xaxis=xa, yaxis=ya, hoverinfo="skip"))


def decode(rows, levels, n):
    cleaned = [r.replace(" ", "") for r in rows]
    return [[levels[int(c)] for c in r.ljust(n, r[-1])[:n]] for r in cleaned]


def cbar(l, t, r, b, vals, labels, ticks="", tickcolor="white", ticklen=0):
    return dict(x=l / W, xanchor="left", y=1 - t / H, yanchor="top", len=b - t, lenmode="pixels", thickness=r - l, thicknessmode="pixels",
                xpad=0, ypad=0, outlinewidth=0, tickvals=vals, ticktext=labels, ticks=ticks, tickcolor=tickcolor, ticklen=ticklen, tickwidth=2,
                tickfont=dict(family=FONT, size=24, color="#000"))


# ---- A ----
txt(22, 29, "A", 50, "center", bold=True)
txt(227, 19, COHORT_D, anchor="center")
txt(754, 16, COHORT_T, anchor="center")
for box, g in [((83, 40, 211, 62), 0), ((224, 40, 383, 62), 1), ((429, 40, 757, 62), 0), ((769, 40, 1095, 62), 1)]:
    bar_annot(box, [[g, g]])
heat((83, 71, 211, 295), A_disc_high, "coloraxis")
heat((224, 71, 383, 295), A_disc_low, "coloraxis")
heat((429, 71, 757, 295), decode(A_tcga_high, A_LEVELS, 143), "coloraxis")
heat((769, 71, 1095, 295), decode(A_tcga_low, A_LEVELS, 143), "coloraxis")
txt(1105, 52, "Methylation subtype")
for i, s in enumerate(STEPS):
    txt(1105, 91 + i * 32, s)
bar_annot((1624, 37, 1657, 102), [[0], [1]])
txt(1670, 52, GROUPS[0], 25)
txt(1670, 83, GROUPS[1], 25)
txt(1666, 212, "TIP Score (Z-score)", 19, "center", -90, True)
layout["coloraxis"] = dict(colorscale=CS_A, cmin=-1.04, cmax=1.02, colorbar=cbar(1692, 148, 1708, 292, [-1, -.5, 0, .5, 1], ["−1", "−0.5", "0", "0.5", "1"]))


# ---- B, C ----
def violin_panel(box, xr, yr, yticks, ylabels, ytitle, yt_x, title, tx, px_, ptext, lab_x, high, low, hbox, lbox):
    xcfg = dict(range=xr, tickvals=[0, 1], ticktext=["", ""], ticks="outside", ticklen=12, tickwidth=2.5, tickcolor="#000", showline=True, linecolor="#000",
                linewidth=2.5, mirror=True, showgrid=False, zeroline=False)
    ycfg = dict(range=yr, tickvals=yticks, ticktext=ylabels, ticks="outside", ticklen=12, tickwidth=2.5, tickcolor="#000", showline=True, linecolor="#000",
                linewidth=2.5, mirror=True, showgrid=False, zeroline=False, tickfont=dict(family=FONT, size=25, color="#000"), ticklabelstandoff=6)
    xa, ya = new_axes(box, xcfg, ycfg)
    for c, (ys, ws), col, bx in [(0, high, ORANGE, hbox), (1, low, BLUE, lbox)]:
        xs = [c - w for w in ws] + [c + w for w in reversed(ws)]
        yy = list(ys) + list(reversed(ys))
        fig.add_trace(go.Scatter(x=xs + xs[:1], y=yy + yy[:1], mode="lines", fill="toself", fillcolor=col, line=dict(color="#000", width=2.4, shape="spline", smoothing=.7),
                                 xaxis=xa, yaxis=ya, hoverinfo="skip", showlegend=False))
        fig.add_trace(go.Scatter(x=[c, c], y=[bx[0], bx[4]], mode="lines", line=dict(color="#000", width=2), xaxis=xa, yaxis=ya, hoverinfo="skip", showlegend=False))
        fig.add_trace(go.Scatter(x=[c, c], y=[bx[1], bx[3]], mode="lines", line=dict(color="#000", width=8.5), xaxis=xa, yaxis=ya, hoverinfo="skip", showlegend=False))
        fig.add_trace(go.Scatter(x=[c], y=[bx[2]], mode="markers", marker=dict(color="white", size=11), xaxis=xa, yaxis=ya, hoverinfo="skip", showlegend=False))
    txt(yt_x, 548, ytitle, 25, "center", -90)
    txt(tx, 382, title, anchor="center")
    txt(px_, 720, ptext, 25)
    txt(lab_x[0], 776, GROUPS[0], 25.4, "center")
    txt(lab_x[1], 776, GROUPS[1], 25.4, "center")


txt(21, 352, "B", 52, "center", bold=True)
txt(954, 352, "C", 52, "center", bold=True)
violin_panel((115, 407, 408, 743), [-.578, 1.593], [-1.977, .313], [0, -.5, -1, -1.5], ["0.0", "−0.5", "−1.0", "−1.5"], "Step 4 score", 36, COHORT_D, 261, 141,
             "<i>P</i> = 0.0033", (166, 333), (B1_high_y, B1_high_w), (B1_low_y, B1_low_w), B1_high_box, B1_low_box)
violin_panel((535, 408, 838, 744), [-.574, 1.574], [-34.8, 35.7], [30, 20, 10, 0, -10, -20, -30], ["30", "20", "10", "0", "−10", "−20", "−30"], "Step 4 score", 465, COHORT_T, 685, 556,
             "<i>P</i> < 2.2e-16", (592, 761), (B2_high_y, B2_high_w), (B2_low_y, B2_low_w), B2_high_box, B2_low_box)
violin_panel((1050, 409, 1351, 745), [-.583, 1.583], [-3.01, 5.65], [4, 2, 0, -2], ["4", "2", "0", "−2"], "Step 6 score", 999, COHORT_D, 1203, 1079,
             "<i>P</i> = 0.1815", (1107, 1275), (C1_high_y, C1_high_w), (C1_low_y, C1_low_w), C1_high_box, C1_low_box)
violin_panel((1460, 412, 1755, 747), [-.569, 1.584], [-1.733, 2.03], [2, 1.5, 1, .5, 0, -.5, -1, -1.5], ["2.0", "1.5", "1.0", "0.5", "0.0", "−0.5", "−1.0", "−1.5"], "Step 6 score", 1381, COHORT_T, 1626, 1610,
             "<i>P</i> = 0.00088", (1513, 1680), (C2_high_y, C2_high_w), (C2_low_y, C2_low_w), C2_high_box, C2_low_box)

# ---- D ----
txt(21, 868, "D", 52, "center", bold=True)
bar_annot((236, 911, 624, 936), [D_groups])
heat((237, 942, 624, 1299), D_matrix, "coloraxis2")
txt(319, 895, GROUPS[0], anchor="center")
txt(515, 895, GROUPS[1], anchor="center")
txt(226, 916, COHORT_D, anchor="right")
txt(639, 931, "<i>P</i> value")
for s, y in zip(CELLS, [967, 1009, 1051, 1095, 1141, 1186, 1230, 1273]):
    txt(221, y, s, anchor="right")
for s, y in zip(D_P, [971, 1012, 1058, 1102, 1148, 1193, 1233, 1277]):
    txt(639, y, s)
txt(849, 973, "Infiltration Score", anchor="center")
txt(849, 1004, "(z-score)", anchor="center")
layout["coloraxis2"] = dict(colorscale=CS_D, cmin=-1.06, cmax=.56, colorbar=cbar(821, 1032, 859, 1225, [-1, -.5, 0, .5], ["−1", "−0.5", "0", "0.5"], "inside", "white", 7))

# ---- E ----
txt(21, 1330, "E", 52, "center", bold=True)
bar_annot((240, 1388, 629, 1412), [[0] * E_groups[0] + [1] * E_groups[1]])
heat((240, 1419, 433, 1772), decode(E_high, E_LEVELS, 100), "coloraxis3")
heat((433, 1419, 629, 1772), decode(E_low, E_LEVELS, 100), "coloraxis3")
txt(342, 1369, GROUPS[0], anchor="center")
txt(523, 1369, GROUPS[1], anchor="center")
txt(221, 1401, COHORT_T, anchor="right")
txt(639, 1401, "<i>P</i> value")
for s, y, xr in zip(CELLS, [1442, 1483, 1526, 1569, 1615, 1661, 1704, 1747], [221, 221, 208, 221, 221, 221, 221, 221]):
    txt(xr, y, s, anchor="right")
for s, y in zip(E_P, [1443, 1488, 1534, 1580, 1625, 1670, 1711, 1751]):
    txt(638, y, s)
txt(849, 1464, "Infiltration Score", anchor="center")
txt(849, 1494, "(z-score)", anchor="center")
layout["coloraxis3"] = dict(colorscale=CS_E, cmin=-1.09, cmax=1.08, colorbar=cbar(821, 1533, 859, 1726, [-1, -.5, 0, .5, 1], ["−1", "−0.5", "0", "0.5", "1"], "inside", "white", 7))


# ---- F, H ----
def cloud(box, xr, yr, xticks, xlabels, minor, shift, clouds, colors, title_pos, title, p_pos, ptext, xlab_pos, xlab):
    xcfg = dict(range=xr, tickvals=xticks, ticktext=xlabels, ticks="outside", ticklen=4, tickwidth=2, tickcolor="#333", showline=True, linecolor="#444",
                linewidth=2, mirror=True, showgrid=True, gridcolor="#ebebeb", gridwidth=2.5, zeroline=False, tickfont=dict(family=FONT, size=25.6, color="#000"),
                ticklabelshift=shift, ticklabelstandoff=-7, minor=dict(tickvals=minor, showgrid=True, gridcolor="#ebebeb", gridwidth=1.2))
    ycfg = dict(range=yr, tickvals=[1, 2], ticktext=GROUPS, ticks="outside", ticklen=5, tickwidth=3, tickcolor="#333", tickangle=-90, showline=True, linecolor="#444",
                linewidth=2, mirror=True, showgrid=True, gridcolor="#ebebeb", gridwidth=2.5, zeroline=False, tickfont=dict(family=FONT, size=25.6, color="#000"),
                ticklabelstandoff=14, ticklabelshift=-3)
    xa, ya = new_axes(box, xcfg, ycfg)
    common = dict(xaxis=xa, yaxis=ya, hoverinfo="skip", showlegend=False)
    for lvl, (dx, dh, bx, out, px, pj), (fc, pc) in zip([1, 2], clouds, colors):
        base = lvl + .253
        yy = [base + h for h in dh]
        hh = .054
        fig.add_trace(go.Scatter(x=list(dx) + [dx[-1], dx[0]], y=yy + [base, base], mode="lines", line=dict(width=0), fill="toself", fillcolor=fc, **common))
        fig.add_trace(go.Scatter(x=dx, y=yy, mode="lines", line=dict(color="#000", width=3, shape="spline", smoothing=.8), **common))
        fig.add_trace(go.Scatter(x=[bx[0], bx[4]], y=[base, base], mode="lines", line=dict(color="#333", width=3.5), **common))
        fig.add_trace(go.Scatter(x=[bx[1], bx[3], bx[3], bx[1], bx[1]], y=[base - hh, base - hh, base + hh, base + hh, base - hh], mode="lines", fill="toself", fillcolor="white",
                                 line=dict(color="#333", width=3), **common))
        fig.add_trace(go.Scatter(x=[bx[2], bx[2]], y=[base - hh, base + hh], mode="lines", line=dict(color="#333", width=5.5), **common))
        fig.add_trace(go.Scatter(x=out, y=[base] * len(out), mode="markers", marker=dict(color="#333", size=9.5), **common))
        n = min(len(px), len(pj))
        fig.add_trace(go.Scatter(x=px[:n], y=lvl + np.array(pj[:n]) / 100, mode="markers", marker=dict(color=pc, size=9.5), **common))
    txt(title_pos[0], title_pos[1], title)
    txt(p_pos[0], p_pos[1], ptext, 25)
    txt(xlab_pos[0], xlab_pos[1], xlab, anchor="center")


txt(1112, 869, "F", 52, "center", bold=True)
txt(1120, 1859, "H", 52, "center", bold=True)
cloud((1199, 893, 1641, 1274), [-89, 2099], [.404, 2.70], [0, 500, 1000, 1500, 2000], ["0", "500", "1000", "1500", "2000"], [250, 750, 1250, 1750], -4,
      [(F1_high_dx, F1_high_dh, F1_high_box, F1_high_out, F1_high_x, F1_high_j), (F1_low_dx, F1_low_dh, F1_low_box, F1_low_out, F1_low_x, F1_low_j)],
      [(SALMON, SALMON), (TEAL, TEAL)], (1207, 870), COHORT_T, (1227, 1237), "<i>P</i> = 1.532e-12", (1424, 1320), "Infiltration Score (Fibroblasts)")
cloud((1200, 1389, 1642, 1769), [-1.24, 26.25], [.403, 2.70], [0, 5, 10, 15, 20, 25], ["0", "5", "10", "15", "20", "25"], [2.5, 7.5, 12.5, 17.5, 22.5], -4,
      [(F2_high_dx, F2_high_dh, F2_high_box, F2_high_out, F2_high_x, F2_high_j), (F2_low_dx, F2_low_dh, F2_low_box, F2_low_out, F2_low_x, F2_low_j)],
      [(SALMON, SALMON), (TEAL, TEAL)], (1201, 1365), COHORT_T, (1227, 1732), "<i>P</i> = 2.302e-05", (1430, 1818), "Infiltration Score (Endothelial cells)")
cloud((1201, 1963, 1638, 2345), [0, 1.098], [.398, 2.70], [0, .25, .5, .75, 1], ["0.00", "0.25", "0.50", "0.75", "1.00"], [.125, .375, .625, .875], 10,
      [(H_high_dx, H_high_dh, H_high_box, H_high_out, H_high_x, H_high_j), (H_low_dx, H_low_dh, H_low_box, H_low_out, H_low_x, H_low_j)],
      [(ORANGE, SALMON), (BLUE, TEAL)], (1202, 1941), COHORT_T, (1227, 2307), "<i>P</i> < 2.2e-16", (1413, 2403), "Immunosuppressive score")

# ---- G ----
txt(22, 1858, "G", 52, "center", bold=True)
bar_annot((239, 1890, 551, 1911), [[0, 0]])
bar_annot((559, 1890, 872, 1911), [[1, 1]])
txt(393, 1875, GROUPS[0], anchor="center")
txt(714, 1875, GROUPS[1], anchor="center")
txt(226, 1900, COHORT_T, anchor="right")
txt(879, 1897, "Methylation subtype", 22.3)
block_y = [(1920, 2007), (2018, 2088), (2100, 2256), (2268, 2478)]
label_y = [1924, 2024, 2106, 2276]
block_lab_y = [1960, 2049, 2175, 2357]
for i, (t, b) in enumerate(block_y):
    heat((239, t, 551, b), decode(G_high[i], G_LEVELS, 145), "coloraxis4")
    heat((559, t, 872, b), decode(G_low[i], G_LEVELS, 145), "coloraxis4")
    txt(226, block_lab_y[i], G_BLOCKS[i], anchor="right")
    for j, g in enumerate(G_GENES[i]):
        txt(879, label_y[i] + j * 17.55, g, 19)
txt(1044, 1987, "TPM", anchor="center")
txt(1046, 2018, "(z-score)", anchor="center")
layout["coloraxis4"] = dict(colorscale=CS_G, cmin=-3.04, cmax=3.02, colorbar=cbar(1021, 2063, 1046, 2441, [-3, -2, -1, 0, 1, 2, 3], ["−3", "−2", "−1", "0", "1", "2", "3"]))

fig.update_layout(**layout)
fig.update_layout(width=W, height=H, margin=dict(l=0, r=0, t=0, b=0, pad=0), paper_bgcolor="white", plot_bgcolor="white", showlegend=False,
                  annotations=annots, font=dict(family=FONT, color="#000"))
fig.write_html("out.html", config=dict(displayModeBar=False), post_script="document.body.style.margin='0';document.documentElement.style.margin='0';")
